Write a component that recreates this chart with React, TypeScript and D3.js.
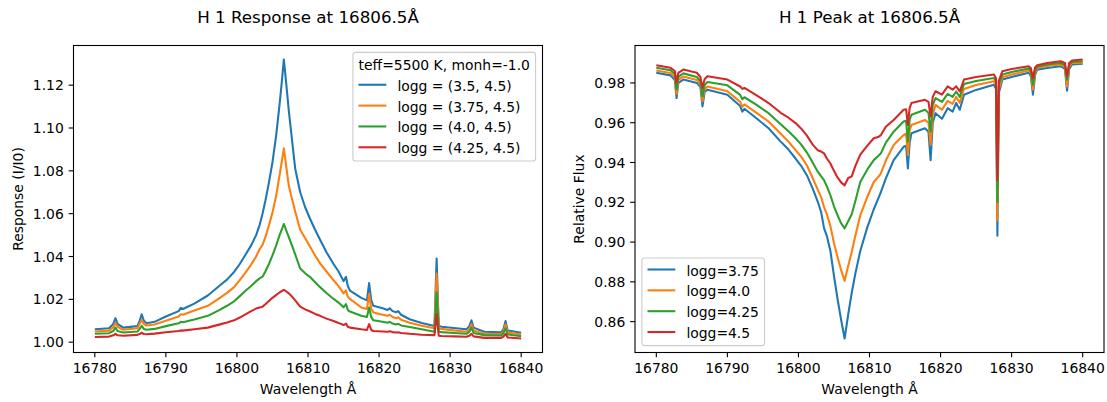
import React from 'react';
import * as d3 from 'd3';

// ---------- data ----------
const L_WL = [16780, 16782, 16782.6, 16782.9, 16783.2, 16784, 16786, 16786.3, 16786.6, 16786.9,
  16787.3, 16788.4, 16790, 16791.8, 16792.1, 16792.4, 16794, 16795.9, 16797.5, 16798.6,
  16799.6, 16800.4, 16801.2, 16802, 16802.7, 16803.2, 16803.6, 16804, 16804.5, 16805,
  16805.5, 16806, 16806.3, 16806.6, 16806.9, 16807.3, 16807.7, 16808.2, 16808.9, 16809.6,
  16810.3, 16811, 16811.7, 16812.6, 16813.6, 16814.3, 16815.0, 16815.35, 16815.6, 16815.9,
  16817.5, 16818.3, 16818.6, 16818.9, 16819.2, 16820.5, 16821.2, 16821.5, 16821.9, 16822.4,
  16822.7, 16823.1, 16824.3, 16826, 16827.8, 16828.1, 16828.4, 16828.8, 16830.5, 16832.3,
  16832.7, 16833.0, 16833.3, 16834.8, 16837.2, 16837.5, 16837.8, 16838.1, 16840];

const RESP_35 = [1.0060, 1.0065, 1.0085, 1.0112, 1.0085, 1.0068, 1.0075, 1.0100, 1.0130, 1.0100,
  1.0088, 1.0095, 1.0120, 1.0145, 1.0160, 1.0155, 1.0180, 1.0218, 1.0262, 1.0292,
  1.0328, 1.0365, 1.0408, 1.0452, 1.0500, 1.0548, 1.0600, 1.0660, 1.0745, 1.0840,
  1.0960, 1.1110, 1.1210, 1.1320, 1.1220, 1.1080, 1.0960, 1.0810, 1.0700, 1.0630,
  1.0575, 1.0525, 1.0478, 1.0420, 1.0365, 1.0330, 1.0285, 1.0305, 1.0262, 1.0241,
  1.0207, 1.0195, 1.0276, 1.0195, 1.0170, 1.0158, 1.0150, 1.0158, 1.0145, 1.0140,
  1.0145, 1.0128, 1.0107, 1.0090, 1.0076, 1.0391, 1.0076, 1.0072, 1.0066, 1.0060,
  1.0075, 1.0102, 1.0068, 1.0049, 1.0046, 1.0060, 1.0099, 1.0055, 1.0044];

const RESP_375 = [1.0050, 1.0054, 1.0070, 1.0091, 1.0072, 1.0058, 1.0065, 1.0085, 1.0105, 1.0085,
  1.0078, 1.0083, 1.0100, 1.0120, 1.0131, 1.0128, 1.0148, 1.0170, 1.0205, 1.0230,
  1.0257, 1.0290, 1.0325, 1.0362, 1.0400, 1.0435, 1.0454, 1.0490, 1.0545, 1.0605,
  1.0680, 1.0780, 1.0840, 1.0905, 1.0830, 1.0730, 1.0675, 1.0610, 1.0525, 1.0485,
  1.0446, 1.0405, 1.0368, 1.0330, 1.0289, 1.0262, 1.0228, 1.0242, 1.0212, 1.0202,
  1.0162, 1.0155, 1.0226, 1.0155, 1.0139, 1.0128, 1.0123, 1.0128, 1.0118, 1.0112,
  1.0116, 1.0105, 1.0091, 1.0077, 1.0065, 1.0320, 1.0065, 1.0062, 1.0055, 1.0049,
  1.0060, 1.0084, 1.0055, 1.0039, 1.0038, 1.0050, 1.0084, 1.0045, 1.0036];

const RESP_40 = [1.0039, 1.0042, 1.0052, 1.0068, 1.0052, 1.0045, 1.0050, 1.0062, 1.0076, 1.0062,
  1.0058, 1.0062, 1.0075, 1.0088, 1.0095, 1.0093, 1.0106, 1.0123, 1.0150, 1.0170,
  1.0191, 1.0215, 1.0240, 1.0262, 1.0285, 1.0298, 1.0306, 1.0330, 1.0365, 1.0405,
  1.0450, 1.0500, 1.0525, 1.0552, 1.0525, 1.0490, 1.0455, 1.0410, 1.0344, 1.0322,
  1.0304, 1.0280, 1.0257, 1.0230, 1.0202, 1.0185, 1.0163, 1.0178, 1.0150, 1.0143,
  1.0123, 1.0118, 1.0162, 1.0118, 1.0102, 1.0095, 1.0091, 1.0095, 1.0087, 1.0083,
  1.0086, 1.0078, 1.0071, 1.0060, 1.0049, 1.0233, 1.0049, 1.0047, 1.0043, 1.0039,
  1.0048, 1.0068, 1.0043, 1.0033, 1.0031, 1.0042, 1.0065, 1.0036, 1.0028];

const RESP_425 = [1.0024, 1.0026, 1.0032, 1.0039, 1.0032, 1.0030, 1.0034, 1.0038, 1.0044, 1.0038,
  1.0037, 1.0040, 1.0046, 1.0052, 1.0055, 1.0054, 1.0060, 1.0068, 1.0082, 1.0092,
  1.0102, 1.0115, 1.0130, 1.0145, 1.0157, 1.0162, 1.0166, 1.0177, 1.0192, 1.0207,
  1.0220, 1.0232, 1.0238, 1.0244, 1.0238, 1.0228, 1.0215, 1.0195, 1.0166, 1.0153,
  1.0143, 1.0132, 1.0123, 1.0110, 1.0099, 1.0090, 1.0080, 1.0087, 1.0072, 1.0068,
  1.0060, 1.0057, 1.0084, 1.0057, 1.0052, 1.0050, 1.0049, 1.0051, 1.0047, 1.0045,
  1.0046, 1.0043, 1.0039, 1.0035, 1.0033, 1.0131, 1.0030, 1.0029, 1.0027, 1.0025,
  1.0030, 1.0039, 1.0027, 1.0020, 1.0020, 1.0026, 1.0039, 1.0022, 1.0017];

const R_WL = [16780, 16782, 16782.6, 16782.85, 16783.1, 16783.8, 16785.7, 16786.2, 16786.5, 16786.8,
  16787.2, 16790, 16791.8, 16792.1, 16792.4, 16794, 16795.8, 16797.5, 16798.6, 16799.6,
  16800.4, 16801.2, 16802.0, 16802.7, 16803.2, 16803.6, 16804.0, 16804.5, 16805.0, 16805.5,
  16806.0, 16806.5, 16807.0, 16807.5, 16808.0, 16808.7, 16809.7, 16810.6, 16811.3, 16811.6,
  16812.3, 16813.4, 16814.8, 16815.15, 16815.4, 16815.65, 16815.9, 16817.8, 16818.3, 16818.6,
  16818.9, 16819.3, 16820.2, 16821, 16821.7, 16822.2, 16822.7, 16823.3, 16825, 16827.5,
  16827.8, 16828.0, 16828.2, 16828.7, 16830, 16832.4, 16832.7, 16833.0, 16833.3, 16833.6,
  16835, 16836.9, 16837.5, 16837.8, 16838.1, 16838.5, 16840];

const FLUX_375 = [0.9851, 0.9838, 0.9815, 0.9724, 0.9800, 0.9817, 0.9800, 0.9780, 0.9682, 0.9755,
  0.9766, 0.9741, 0.9684, 0.9656, 0.9670, 0.9625, 0.9572, 0.9505, 0.9465, 0.9420,
  0.9382, 0.9335, 0.9270, 0.9205, 0.9150, 0.9070, 0.9030, 0.8955, 0.8830, 0.8715,
  0.8610, 0.8515, 0.8635, 0.8745, 0.8840, 0.8955, 0.9075, 0.9165, 0.9225, 0.9251,
  0.9320, 0.9412, 0.9479, 0.9485, 0.9370, 0.9500, 0.9547, 0.9572, 0.9555, 0.9412,
  0.9600, 0.9648, 0.9620, 0.9673, 0.9656, 0.9699, 0.9665, 0.9741, 0.9765, 0.9791,
  0.9770, 0.9032, 0.9750, 0.9817, 0.9830, 0.9851, 0.9835, 0.9741, 0.9840, 0.9867,
  0.9875, 0.9884, 0.9870, 0.9761, 0.9870, 0.9893, 0.9896];

const FLUX_40 = [0.9862, 0.9850, 0.9830, 0.9744, 0.9815, 0.9832, 0.9815, 0.9795, 0.9707, 0.9770,
  0.9782, 0.9758, 0.9705, 0.9680, 0.9692, 0.9652, 0.9606, 0.9545, 0.9505, 0.9462,
  0.9428, 0.9385, 0.9322, 0.9265, 0.9225, 0.9176, 0.9140, 0.9080, 0.8995, 0.8925,
  0.8860, 0.8805, 0.8880, 0.8950, 0.9030, 0.9134, 0.9228, 0.9302, 0.9330, 0.9345,
  0.9410, 0.9488, 0.9538, 0.9545, 0.9437, 0.9560, 0.9589, 0.9614, 0.9600, 0.9488,
  0.9640, 0.9690, 0.9665, 0.9710, 0.9695, 0.9730, 0.9700, 0.9770, 0.9790, 0.9808,
  0.9790, 0.9108, 0.9770, 0.9828, 0.9842, 0.9862, 0.9848, 0.9766, 0.9850, 0.9875,
  0.9885, 0.9893, 0.9880, 0.9783, 0.9880, 0.9900, 0.9902];

const FLUX_425 = [0.9876, 0.9864, 0.9845, 0.9766, 0.9830, 0.9848, 0.9830, 0.9810, 0.9732, 0.9790,
  0.9805, 0.9788, 0.9740, 0.9718, 0.9728, 0.9692, 0.9648, 0.9592, 0.9557, 0.9522,
  0.9490, 0.9450, 0.9400, 0.9355, 0.9330, 0.9311, 0.9280, 0.9235, 0.9180, 0.9135,
  0.9095, 0.9069, 0.9105, 0.9140, 0.9205, 0.9302, 0.9365, 0.9412, 0.9435, 0.9446,
  0.9500, 0.9555, 0.9606, 0.9610, 0.9505, 0.9615, 0.9640, 0.9665, 0.9650, 0.9555,
  0.9690, 0.9724, 0.9705, 0.9745, 0.9730, 0.9757, 0.9730, 0.9795, 0.9810, 0.9825,
  0.9808, 0.9201, 0.9790, 0.9842, 0.9855, 0.9873, 0.9860, 0.9791, 0.9862, 0.9882,
  0.9893, 0.9900, 0.9890, 0.9817, 0.9890, 0.9906, 0.9909];

const FLUX_45 = [0.9889, 0.9876, 0.9860, 0.9800, 0.9850, 0.9867, 0.9851, 0.9830, 0.9775, 0.9820,
  0.9834, 0.9817, 0.9782, 0.9770, 0.9775, 0.9740, 0.9699, 0.9650, 0.9625, 0.9598,
  0.9570, 0.9535, 0.9490, 0.9462, 0.9455, 0.9446, 0.9420, 0.9395, 0.9358, 0.9325,
  0.9300, 0.9285, 0.9322, 0.9330, 0.9382, 0.9440, 0.9485, 0.9522, 0.9530, 0.9538,
  0.9580, 0.9614, 0.9665, 0.9668, 0.9589, 0.9675, 0.9699, 0.9715, 0.9705, 0.9631,
  0.9730, 0.9758, 0.9741, 0.9783, 0.9766, 0.9783, 0.9758, 0.9817, 0.9830, 0.9842,
  0.9825, 0.9311, 0.9810, 0.9859, 0.9870, 0.9884, 0.9875, 0.9825, 0.9878, 0.9889,
  0.9900, 0.9909, 0.9900, 0.9834, 0.9900, 0.9913, 0.9918];

const X_TICKS = [16780, 16790, 16800, 16810, 16820, 16830, 16840];
const RESP_TICKS = [1.00, 1.02, 1.04, 1.06, 1.08, 1.10, 1.12];
const FLUX_TICKS = [0.86, 0.88, 0.90, 0.92, 0.94, 0.96, 0.98];
const RESP_LABELS = ['logg = (3.5, 4.5)', 'logg = (3.75, 4.5)', 'logg = (4.0, 4.5)', 'logg = (4.25, 4.5)'];
const FLUX_LABELS = ['logg=3.75', 'logg=4.0', 'logg=4.25', 'logg=4.5'];
const COLORS = ['#1f77b4', '#ff7f0e', '#2ca02c', '#d62728'];

// ---------- style ----------
const FONT = 'DejaVu Sans, sans-serif';
const FS = 13.9;
const TFS = 16.7;
const TICK = 4.86;
const PAD = 4.86;
const LW = 2.08;

type PanelProps = {
  id: string;
  left: number; right: number; top: number; bottom: number;
  wl: number[]; series: number[][]; labels: string[]; yTicks: number[];
  title: string; ylabel: string; ylabelX: number;
  legend: { x: number; y: number; w: number; h: number; title?: string; handleX: number; firstRow: number };
};

function Panel(p: PanelProps) {
  const xe = d3.extent(p.wl) as [number, number];
  const xm = (xe[1] - xe[0]) * 0.05;
  const x = d3.scaleLinear().domain([xe[0] - xm, xe[1] + xm]).range([p.left, p.right]);
  const all = p.series.flat();
  const ye = d3.extent(all) as [number, number];
  const ym = (ye[1] - ye[0]) * 0.05;
  const y = d3.scaleLinear().domain([ye[0] - ym, ye[1] + ym]).range([p.bottom, p.top]);
  const line = d3.line<number>().x((_, i) => x(p.wl[i])).y((d) => y(d));
  const lg = p.legend;
  const rowH = FS * 1.5;
  return (
    <g>
      <defs>
        <clipPath id={p.id}>
          <rect x={p.left} y={p.top} width={p.right - p.left} height={p.bottom - p.top} />
        </clipPath>
      </defs>
      <g clipPath={`url(#${p.id})`}>
        {p.series.map((s, i) => (
          <path key={i} d={line(s) || ''} fill="none" stroke={COLORS[i]} strokeWidth={LW}
            strokeLinejoin="round" strokeLinecap="butt" />
        ))}
      </g>
      <rect x={p.left} y={p.top} width={p.right - p.left} height={p.bottom - p.top}
        fill="none" stroke="#000" strokeWidth={1.1} />
      {X_TICKS.map((t) => (
        <g key={t}>
          <line x1={x(t)} x2={x(t)} y1={p.bottom} y2={p.bottom + TICK} stroke="#000" strokeWidth={1.1} />
          <text x={x(t)} y={p.bottom + TICK + PAD + 10.3} textAnchor="middle" fontSize={FS}
            fontFamily={FONT} fill="#000">{t}</text>
        </g>
      ))}
      {p.yTicks.map((t) => (
        <g key={t}>
          <line x1={p.left - TICK} x2={p.left} y1={y(t)} y2={y(t)} stroke="#000" strokeWidth={1.1} />
          <text x={p.left - TICK - PAD} y={y(t)} dy="0.36em" textAnchor="end" fontSize={FS}
            fontFamily={FONT} fill="#000">{t.toFixed(2)}</text>
        </g>
      ))}
      <text x={(p.left + p.right) / 2} y={394} textAnchor="middle" fontSize={FS} fontFamily={FONT}
        fill="#000">Wavelength Å</text>
      <text transform={`translate(${p.ylabelX},${(p.top + p.bottom) / 2}) rotate(-90)`}
        textAnchor="middle" fontSize={FS} fontFamily={FONT} fill="#000">{p.ylabel}</text>
      <text x={(p.left + p.right) / 2} y={23} textAnchor="middle" fontSize={TFS} fontFamily={FONT}
        fill="#000">{p.title}</text>
      <g>
        <rect x={lg.x} y={lg.y} width={lg.w} height={lg.h} rx={2.8} ry={2.8}
          fill="#fff" fillOpacity={0.8} stroke="#cccccc" strokeWidth={1.1} />
        {lg.title && (
          <text x={lg.x + lg.w / 2} y={lg.y + 5.56 + FS / 2} dy="0.36em" textAnchor="middle"
            fontSize={FS} fontFamily={FONT} fill="#000">{lg.title}</text>
        )}
        {p.labels.map((lab, i) => {
          const cy = lg.firstRow + i * rowH;
          return (
            <g key={lab}>
              <line x1={lg.handleX} x2={lg.handleX + 27.8} y1={cy - 1} y2={cy - 1}
                stroke={COLORS[i]} strokeWidth={LW} />
              <text x={lg.handleX + 27.8 + 11.1} y={cy} dy="0.36em" fontSize={FS}
                fontFamily={FONT} fill="#000">{lab}</text>
            </g>
          );
        })}
      </g>
    </g>
  );
}

export default function App() {
  return (
    <svg width={1107} height={402} viewBox="0 0 1107 402"
      style={{ position: 'absolute', left: 0, top: 0, background: '#fff', display: 'block' }}>
      <rect x={0} y={0} width={1107} height={402} fill="#fff" />
      <Panel id="clipL" left={73.5} right={542.5} top={45.5} bottom={352.5}
        wl={L_WL} series={[RESP_35, RESP_375, RESP_40, RESP_425]} labels={RESP_LABELS}
        yTicks={RESP_TICKS} title="H 1 Response at 16806.5Å" ylabel="Response (I/I0)" ylabelX={22.5}
        legend={{ x: 352.9, y: 52.4, w: 182.7, h: 108.6, title: 'teff=5500 K, monh=-1.0', handleX: 358.5, firstRow: 85.75 }} />
      <Panel id="clipR" left={635} right={1104} top={45.5} bottom={352.5}
        wl={R_WL} series={[FLUX_375, FLUX_40, FLUX_425, FLUX_45]} labels={FLUX_LABELS}
        yTicks={FLUX_TICKS} title="H 1 Peak at 16806.5Å" ylabel="Relative Flux" ylabelX={583.5}
        legend={{ x: 641.9, y: 258, w: 122.6, h: 87.6, handleX: 647.5, firstRow: 270.5 }} />
    </svg>
  );
}
